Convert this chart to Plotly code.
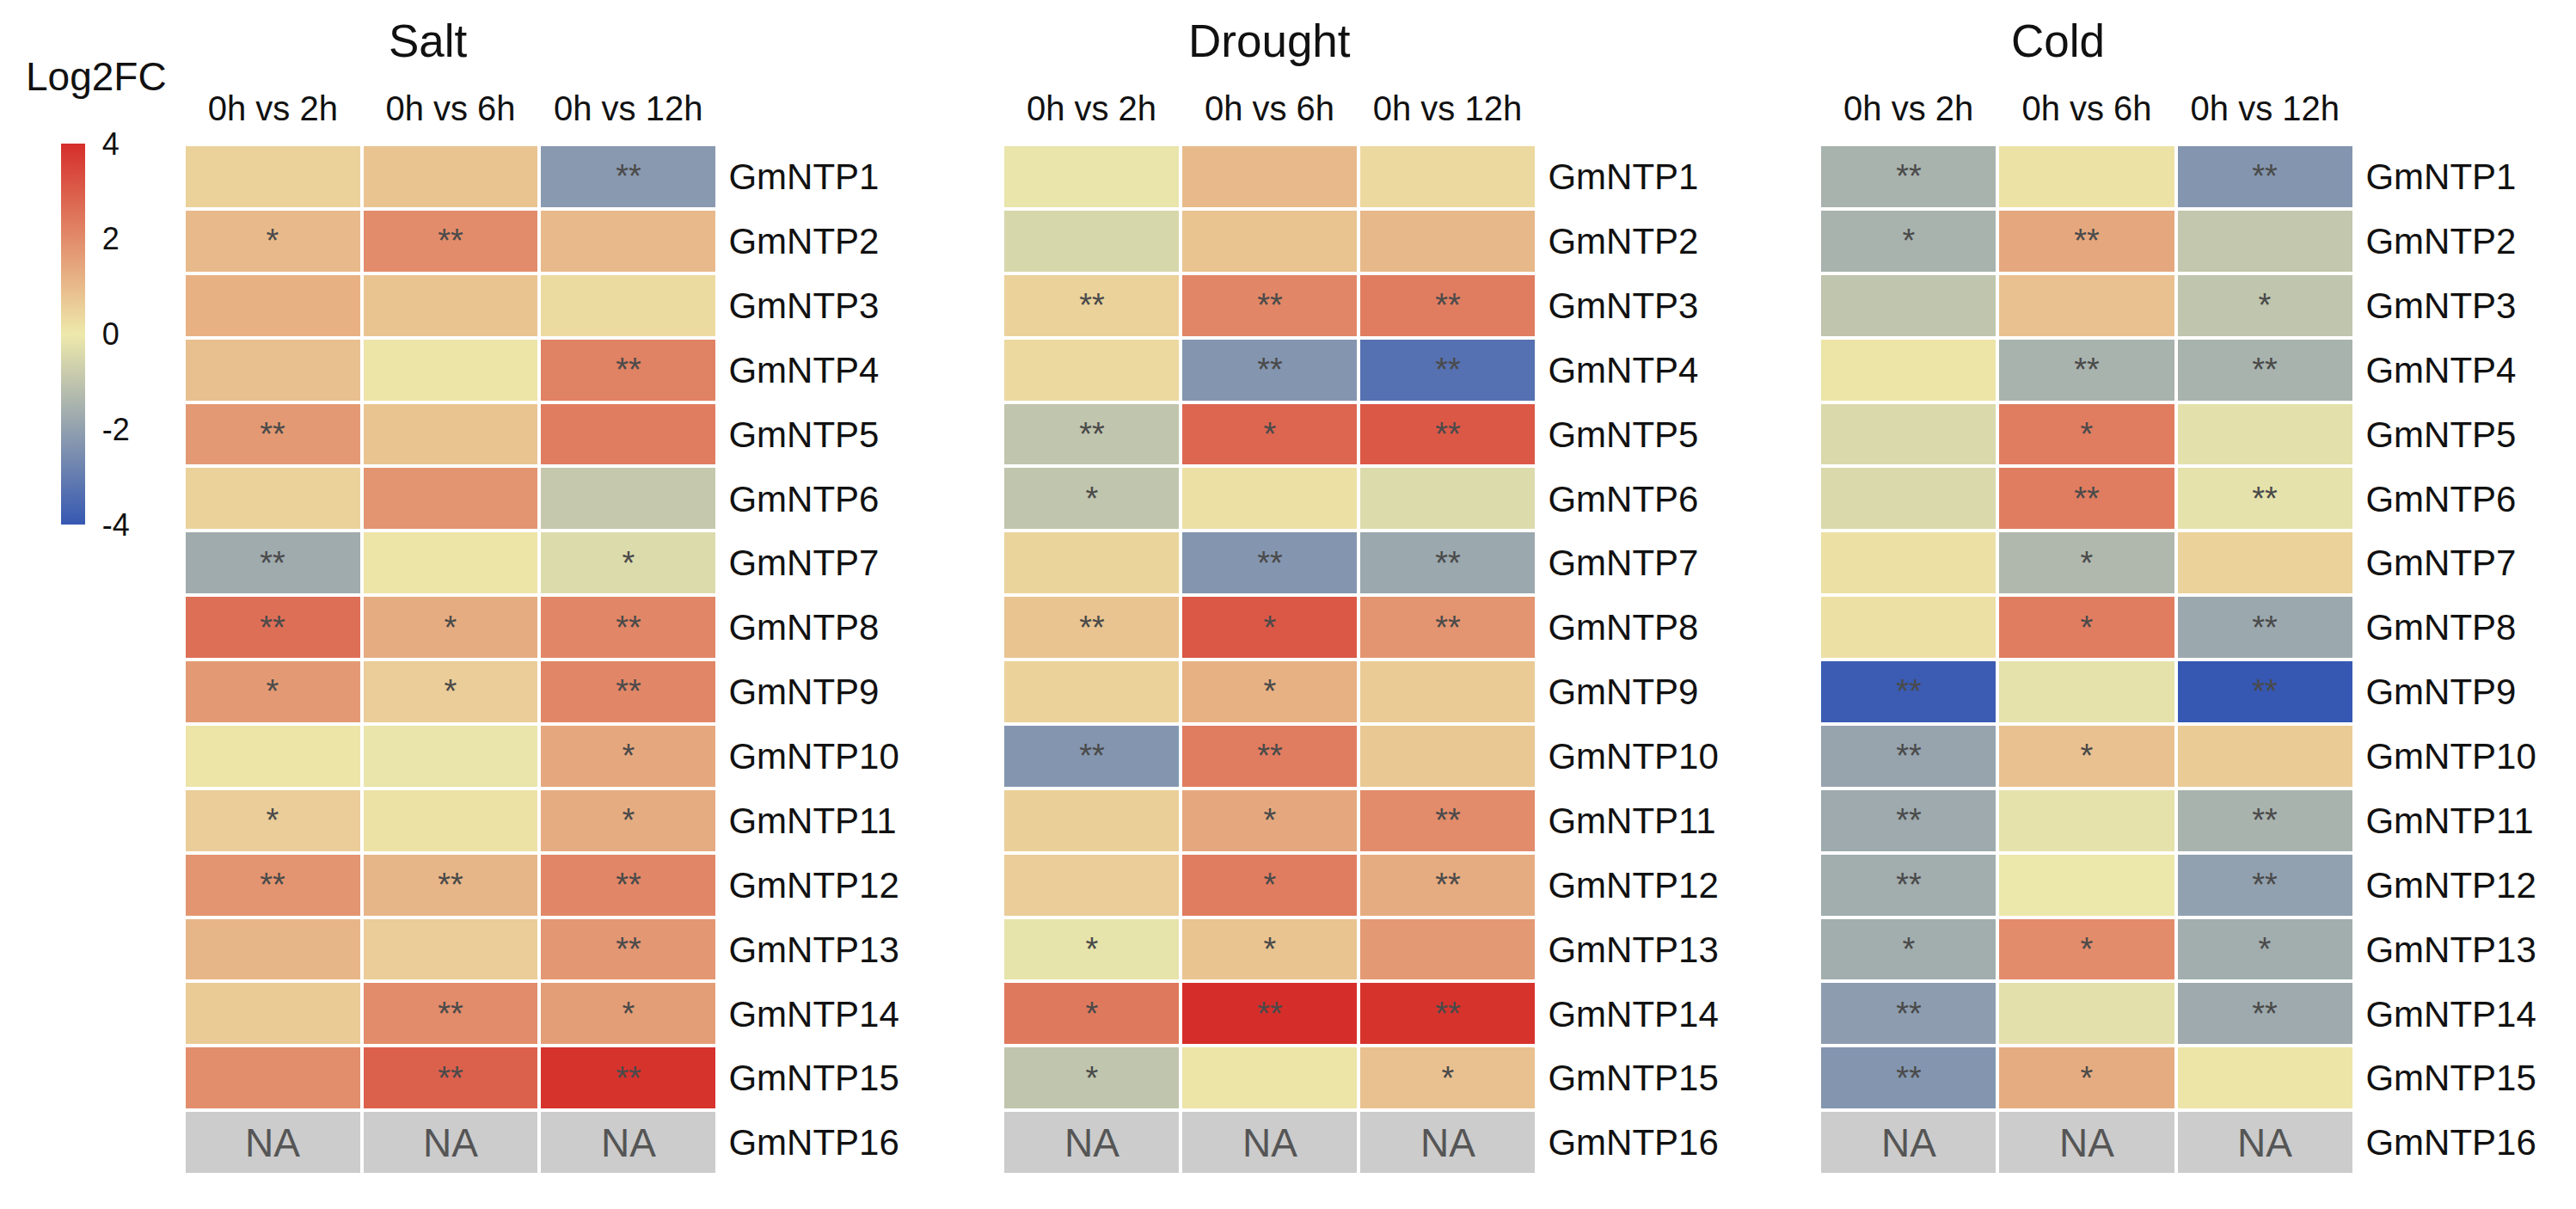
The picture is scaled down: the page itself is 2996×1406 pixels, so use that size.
import plotly.graph_objects as go

# ---------------- data ----------------
genes = ["GmNTP1", "GmNTP2", "GmNTP3", "GmNTP4", "GmNTP5", "GmNTP6", "GmNTP7", "GmNTP8",
         "GmNTP9", "GmNTP10", "GmNTP11", "GmNTP12", "GmNTP13", "GmNTP14", "GmNTP15", "GmNTP16"]
comparisons = ["0h vs 2h", "0h vs 6h", "0h vs 12h"]
conditions = ["Salt", "Drought", "Cold"]

salt_lfc = [
    [0.5, 0.8, -2.2], [1.0, 2.0, 1.0], [1.2, 0.8, 0.3], [0.9, 0.1, 2.2],
    [1.7, 0.8, 2.3], [0.5, 1.8, -0.9], [-1.7, 0.1, -0.4], [2.6, 1.3, 2.1],
    [1.7, 0.6, 2.1], [0.1, -0.1, 1.4], [0.6, 0.15, 1.3], [1.8, 1.1, 2.1],
    [1.1, 0.6, 1.75], [0.65, 2.0, 1.6], [1.95, 2.9, 3.9], [None, None, None],
]
drought_lfc = [
    [-0.1, 1.0, 0.35], [-0.5, 0.8, 1.05], [0.5, 2.1, 2.3], [0.35, -2.3, -3.3],
    [-1.0, 2.8, 3.1], [-1.0, 0.2, -0.4], [0.45, -2.3, -1.8], [0.8, 3.1, 1.8],
    [0.5, 1.2, 0.65], [-2.3, 2.3, 0.7], [0.55, 1.4, 2.0], [0.6, 2.3, 1.3],
    [-0.15, 0.8, 1.7], [2.4, 4.0, 3.9], [-1.0, 0.1, 0.85], [None, None, None],
]
cold_lfc = [
    [-1.5, 0.15, -2.3], [-1.5, 1.4, -0.95], [-1.0, 0.85, -1.0], [0.1, -1.5, -1.5],
    [-0.45, 2.3, -0.25], [-0.45, 2.3, -0.2], [0.2, -1.35, 0.5], [0.2, 2.3, -1.8],
    [-3.9, -0.2, -4.0], [-1.9, 0.85, 0.65], [-1.75, -0.2, -1.5], [-1.65, -0.05, -2.0],
    [-1.65, 2.0, -1.65], [-2.1, -0.25, -1.75], [-2.3, 1.3, 0.1], [None, None, None],
]

salt_sig = [
    ["", "", "**"], ["*", "**", ""], ["", "", ""], ["", "", "**"],
    ["**", "", ""], ["", "", ""], ["**", "", "*"], ["**", "*", "**"],
    ["*", "*", "**"], ["", "", "*"], ["*", "", "*"], ["**", "**", "**"],
    ["", "", "**"], ["", "**", "*"], ["", "**", "**"], ["", "", ""],
]
drought_sig = [
    ["", "", ""], ["", "", ""], ["**", "**", "**"], ["", "**", "**"],
    ["**", "*", "**"], ["*", "", ""], ["", "**", "**"], ["**", "*", "**"],
    ["", "*", ""], ["**", "**", ""], ["", "*", "**"], ["", "*", "**"],
    ["*", "*", ""], ["*", "**", "**"], ["*", "", "*"], ["", "", ""],
]
cold_sig = [
    ["**", "", "**"], ["*", "**", ""], ["", "", "*"], ["", "**", "**"],
    ["", "*", ""], ["", "**", "**"], ["", "*", ""], ["", "*", "**"],
    ["**", "", "**"], ["**", "*", ""], ["**", "", "**"], ["**", "", "**"],
    ["*", "*", "*"], ["**", "", "**"], ["**", "*", ""], ["", "", ""],
]

cbar_ticks = [4, 2, 0, -2, -4]

# ---------------- style / layout ----------------
W, H = 2996, 1406
FONT = "Liberation Sans, Arial, sans-serif"
colorscale = [[0.0, "#3658B2"], [0.5, "#EEE9AB"], [1.0, "#D52E2A"]]
na_color = "#CCCCCC"
x_px = [(206, 826), (1158, 1779), (2108, 2730)]
title_dx = [-26, 0, -34]
y_px = (160, 1358)
y_dom = [1 - y_px[1] / H, 1 - y_px[0] / H]

panels = [(salt_lfc, salt_sig), (drought_lfc, drought_sig), (cold_lfc, cold_sig)]

fig = go.Figure()
annotations = []
for i, (cond, (vals, sig)) in enumerate(zip(conditions, panels)):
    sfx = "" if i == 0 else str(i + 1)
    xa, ya = "x" + sfx, "y" + sfx
    fig.add_trace(go.Heatmap(
        z=vals, x=comparisons, y=genes, text=sig, texttemplate="%{text}",
        textfont=dict(family=FONT, size=38, color="#4a4a4a"),
        colorscale=colorscale, zmin=-4, zmax=4, xgap=4, ygap=4,
        showscale=(i == 0), hoverongaps=False, xaxis=xa, yaxis=ya,
        colorbar=dict(
            x=63 / W, xanchor="left", xref="paper", xpad=0,
            y=1 - 159 / H, yanchor="top", ypad=0,
            len=443 / H, lenmode="fraction", thickness=28, outlinewidth=0,
            tickvals=cbar_ticks, ticktext=[str(t) for t in cbar_ticks],
            ticks="outside", ticklen=13, tickcolor="rgba(0,0,0,0)",
            tickfont=dict(family=FONT, size=36, color="#111111"),
        ),
    ))
    na_z = [[0 if v is None else None for v in row] for row in vals]
    na_text = [["NA" if v is None else "" for v in row] for row in vals]
    fig.add_trace(go.Heatmap(
        z=na_z, x=comparisons, y=genes, text=na_text, texttemplate="%{text}",
        textfont=dict(family=FONT, size=46, color="#555555"),
        colorscale=[[0, na_color], [1, na_color]], showscale=False,
        xgap=4, ygap=4, hoverongaps=False, xaxis=xa, yaxis=ya,
    ))
    x_dom = [x_px[i][0] / W, x_px[i][1] / W]
    fig.update_layout(**{
        ("xaxis" + sfx): dict(
            domain=x_dom, anchor=ya, side="top", showgrid=False, zeroline=False,
            showline=False, ticks="outside", ticklen=11, tickcolor="rgba(0,0,0,0)",
            tickfont=dict(family=FONT, size=40, color="#111111"), fixedrange=True,
        ),
        ("yaxis" + sfx): dict(
            domain=y_dom, anchor=xa, side="right", autorange="reversed",
            showgrid=False, zeroline=False, showline=False, ticks="outside",
            ticklen=4, tickcolor="rgba(0,0,0,0)",
            tickfont=dict(family=FONT, size=42, color="#111111"), fixedrange=True,
        ),
    })
    annotations.append(dict(
        text=cond, xref="paper", yref="paper",
        x=(sum(x_px[i]) / 2 + title_dx[i]) / W, y=1 - 39 / H,
        xanchor="center", yanchor="middle", showarrow=False,
        font=dict(family=FONT, size=53, color="#111111"),
    ))

annotations.append(dict(
    text="Log2FC", xref="paper", yref="paper", x=104 / W, y=1 - 81 / H,
    xanchor="center", yanchor="middle", showarrow=False,
    font=dict(family=FONT, size=46, color="#111111"),
))

fig.update_layout(
    width=W, height=H, margin=dict(l=0, r=0, t=0, b=0),
    paper_bgcolor="white", plot_bgcolor="white",
    annotations=annotations, font=dict(family=FONT),
)

fig.write_html("out.html")
